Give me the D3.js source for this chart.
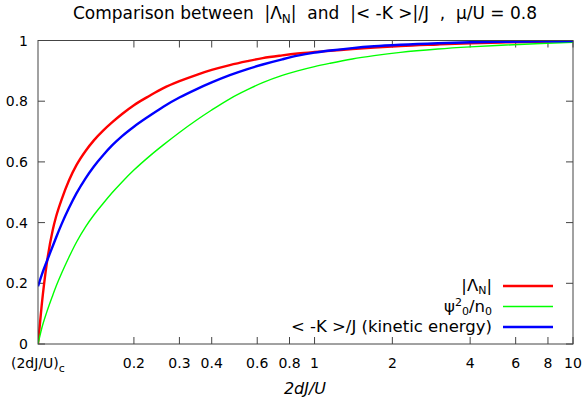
<!DOCTYPE html>
<html>
<head>
<meta charset="utf-8">
<script src="https://cdn.jsdelivr.net/npm/d3@7"></script>
<style>
  html, body { margin: 0; padding: 0; background: #fff; }
  svg text { font-family: "DejaVu Sans", sans-serif; fill: #000; white-space: pre; }
</style>
</head>
<body>
<svg id="chart" width="584" height="403"></svg>
<script>
// ---- data ----
const xCritical = 0.0851;
const xValues = [0.0851, 0.088, 0.092, 0.097, 0.1, 0.105, 0.112, 0.12, 0.13, 0.14, 0.152, 0.165, 0.18, 0.2, 0.23, 0.26, 0.3, 0.35, 0.4, 0.47, 0.55, 0.63, 0.75, 0.86, 1, 1.15, 1.4, 1.7, 2.15, 3, 4, 5.5, 7.5, 10];
const lambdaN = [0, 0.13, 0.265, 0.375, 0.42, 0.476, 0.538, 0.59, 0.636, 0.671, 0.703, 0.731, 0.758, 0.787, 0.818, 0.843, 0.866, 0.887, 0.903, 0.919, 0.932, 0.942, 0.951, 0.957, 0.962, 0.966, 0.972, 0.977, 0.982, 0.987, 0.991, 0.994, 0.996, 0.998];
const psiOverN = [0, 0.052, 0.105, 0.16, 0.19, 0.233, 0.285, 0.336, 0.386, 0.425, 0.463, 0.499, 0.534, 0.573, 0.619, 0.656, 0.697, 0.738, 0.771, 0.808, 0.838, 0.861, 0.885, 0.9, 0.914, 0.925, 0.939, 0.95, 0.961, 0.972, 0.979, 0.985, 0.99, 0.994];
const kinetic = [0.19, 0.228, 0.272, 0.322, 0.351, 0.395, 0.447, 0.497, 0.546, 0.585, 0.622, 0.655, 0.685, 0.716, 0.752, 0.782, 0.812, 0.84, 0.862, 0.886, 0.906, 0.921, 0.938, 0.95, 0.96, 0.967, 0.975, 0.981, 0.986, 0.991, 0.994, 0.996, 0.997, 0.998];
const xTickValues = [0.2, 0.3, 0.4, 0.6, 0.8, 1, 2, 4, 6, 8, 10];
const yTickValues = [0, 0.2, 0.4, 0.6, 0.8, 1];
const seriesColors = ["#ff0000", "#00ff00", "#0000ff"];

// ---- layout ----
const svg = d3.select("#chart");
const L = 38, R = 573, T = 40.5, B = 344;
const x = d3.scaleLog().domain([xCritical, 10]).range([L, R]);
const y = d3.scaleLinear().domain([0, 1]).range([B, T]);
const axisColor = "#444";

// title
const title = svg.append("text").attr("x", 305).attr("y", 19).attr("text-anchor", "middle").style("font-size", "17px");
title.append("tspan").text("Comparison between  |Λ");
title.append("tspan").attr("dy", 4).style("font-size", "12px").text("N");
title.append("tspan").attr("dy", -4).text("|  and  |< -K >|/J  ,  μ/U = 0.8");

// clip
svg.append("clipPath").attr("id", "clip").append("rect").attr("x", L).attr("y", T).attr("width", R - L).attr("height", B - T);

// ticks (inward, mirrored)
const tickLen = 7;
const axes = svg.append("g");
xTickValues.forEach(v => {
  axes.append("line").attr("x1", x(v)).attr("x2", x(v)).attr("y1", B).attr("y2", B - tickLen).attr("stroke", axisColor);
  axes.append("line").attr("x1", x(v)).attr("x2", x(v)).attr("y1", T).attr("y2", T + tickLen).attr("stroke", axisColor);
  svg.append("text").attr("x", x(v)).attr("y", 368).attr("text-anchor", "middle").style("font-size", "14px").text(d3.format("~g")(v));
});
yTickValues.forEach(v => {
  axes.append("line").attr("x1", L).attr("x2", L + tickLen).attr("y1", y(v)).attr("y2", y(v)).attr("stroke", axisColor);
  axes.append("line").attr("x1", R).attr("x2", R - tickLen).attr("y1", y(v)).attr("y2", y(v)).attr("stroke", axisColor);
  svg.append("text").attr("x", 28).attr("y", y(v) + 5).attr("text-anchor", "end").style("font-size", "14px").text(d3.format("~g")(v));
});
// critical point label
const cl = svg.append("text").attr("x", 11).attr("y", 368).style("font-size", "14px");
cl.append("tspan").text("(2dJ/U)");
cl.append("tspan").attr("dy", 4).style("font-size", "11px").text("c");

// x axis title
svg.append("text").attr("x", 305).attr("y", 394).attr("text-anchor", "middle").style("font-size", "16px").style("font-style", "italic").text("2dJ/U");

// curves
const seriesData = [lambdaN, psiOverN, kinetic];
const widths = [2.4, 1.4, 2.4];
const line = d3.line().x(d => x(d[0])).y(d => y(d[1])).curve(d3.curveMonotoneX);
const plot = svg.append("g").attr("clip-path", "url(#clip)");
seriesData.forEach((vals, i) => {
  plot.append("path").datum(xValues.map((xv, j) => [xv, vals[j]]))
    .attr("d", line).attr("fill", "none").attr("stroke", seriesColors[i]).attr("stroke-width", widths[i]).attr("stroke-linejoin", "round");
});

// border
svg.append("rect").attr("x", L).attr("y", T).attr("width", R - L).attr("height", B - T).attr("fill", "none").attr("stroke", axisColor).attr("stroke-width", 1);

// legend
const legRows = [286, 306.5, 327];
const lx1 = 503, lx2 = 553, ltx = 492;
legRows.forEach((ry, i) => {
  svg.append("line").attr("x1", lx1).attr("x2", lx2).attr("y1", ry).attr("y2", ry).attr("stroke", seriesColors[i]).attr("stroke-width", widths[i]);
});
const t0 = svg.append("text").attr("x", ltx).attr("y", legRows[0] + 5).attr("text-anchor", "end").style("font-size", "16.5px");
t0.append("tspan").text("|Λ");
t0.append("tspan").attr("dy", 3).style("font-size", "11px").text("N");
t0.append("tspan").attr("dy", -3).text("|");
const t1 = svg.append("text").attr("x", ltx).attr("y", legRows[1] + 5).attr("text-anchor", "end").style("font-size", "16.5px");
t1.append("tspan").text("ψ");
t1.append("tspan").attr("dy", -6).style("font-size", "11px").text("2");
t1.append("tspan").attr("dy", 9).style("font-size", "11px").text("0");
t1.append("tspan").attr("dy", -3).text("/n");
t1.append("tspan").attr("dy", 3).style("font-size", "11px").text("0");
const t2 = svg.append("text").attr("x", ltx).attr("y", legRows[2] + 5).attr("text-anchor", "end").style("font-size", "16.5px");
t2.text("< -K >/J (kinetic energy)");
</script>
</body>
</html>
